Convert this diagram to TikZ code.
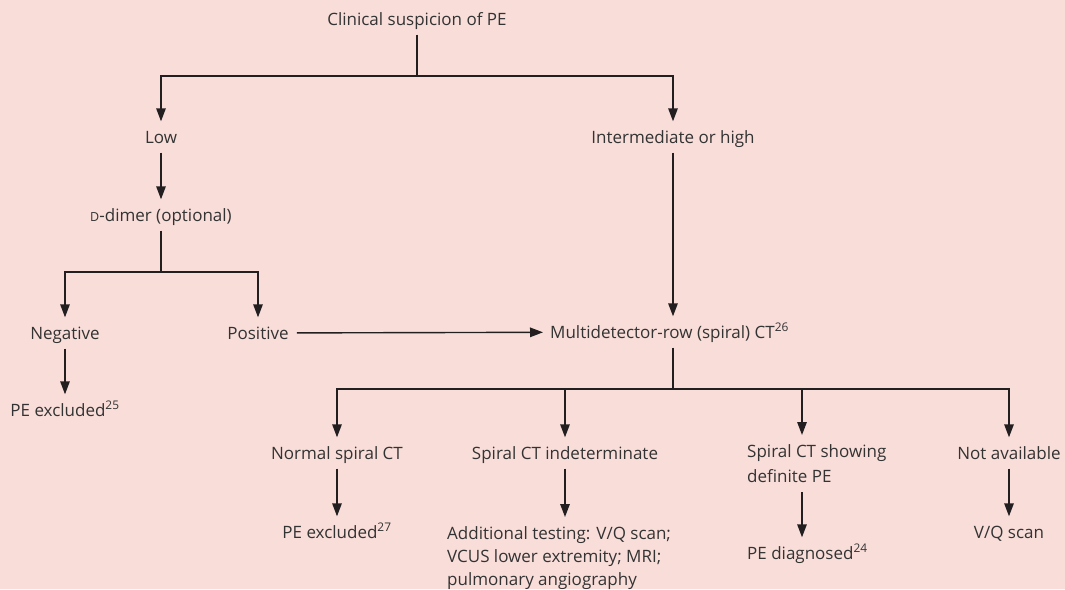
\documentclass[tikz,border=0pt]{standalone}
\usepackage{fontspec}
\setmainfont{Open Sans}
\usepackage{tikz}
\usetikzlibrary{arrows.meta,positioning,calc}
\definecolor{bgpink}{HTML}{F8DDD9}
\definecolor{inkgray}{HTML}{333333}
\definecolor{linegray}{HTML}{231F20}

\begin{document}
\begin{tikzpicture}[
    x=1pt, y=-1pt,
    >={Triangle[length=13pt,width=9.5pt]},
    lbl/.style={inner xsep=0pt,inner ysep=9.5pt,text height=12pt,text depth=0pt,
                font=\fontsize{17}{23}\selectfont,text=inkgray},
    blk/.style={inner xsep=0pt,inner ysep=9.5pt,text depth=0pt,align=left,
                font=\fontsize{17}{23}\selectfont,text=inkgray},
    link/.style={linegray,line width=1.4pt},
    flow/.style={link,->},
  ]

  % page: pink panel, fixed to the reference size
  \fill[bgpink] (0,0) rectangle (1065,589);
  \useasboundingbox (0,0) rectangle (1065,589);

  % --- top: suspicion and its two branches ---
  \node[lbl] (clin)  at (417,19)  {Clinical suspicion of PE};
  \node[lbl] (low)   at (161,137) {Low};
  \node[lbl] (inter) at (673,137) {Intermediate or high};
  \coordinate (j1) at (417,76);
  \draw[link] (clin) -- (j1);
  \draw[flow] (j1) -| (low);
  \draw[flow] (j1) -| (inter);

  % --- low probability: D-dimer ---
  \node[lbl] (ddim) at (161,215) {{\fontsize{12.5}{12.5}\selectfont D}-dimer (optional)};
  \draw[flow] (low) -- (ddim);
  \node[lbl] (neg)  at (65,333)  {Negative};
  \node[lbl] (pos)  at (258,333) {Positive};
  \coordinate (j2) at (161,272);
  \draw[link] (ddim) -- (j2);
  \draw[flow] (j2) -| (neg);
  \draw[flow] (j2) -| (pos);
  \node[lbl] (pex1) at (65,410) {PE excluded\textsuperscript{25}};
  \draw[flow] (neg) -- (pex1);

  % --- spiral CT ---
  \node[lbl,anchor=west] (mdct) at (550,332) {Multidetector-row (spiral) CT\textsuperscript{26}};
  \draw[flow,shorten <=8pt,shorten >=7pt] (pos) -- (mdct);
  \draw[flow] (inter) -- (inter |- mdct.north);
  \coordinate (j3) at (673,389);
  \draw[link] (mdct.south -| j3) -- (j3);

  % --- CT outcomes (bottom row) ---
  \node[lbl] (norm)  at (337,453)  {Normal spiral CT};
  \node[lbl] (indet) at (565,453)  {Spiral CT indeterminate};
  \node[blk,anchor=north west,font=\fontsize{17}{25}\selectfont] (defpe) at (747,435)
    {Spiral CT showing\\definite PE};
  \node[lbl] (notav) at (1009,453) {Not available};
  \coordinate (j4) at (802,389);
  \draw[flow] (j3) -| (norm);
  \draw[flow] (j3) -| (indet);
  \draw[flow] (j4) -- (j4 |- defpe.north);
  \draw[flow] (j3) -| (notav);

  \node[lbl] (pex2) at (337,532) {PE excluded\textsuperscript{27}};
  \node[blk,anchor=north west] (addt) at (447,517)
    {Additional testing: V/Q scan;\\VCUS lower extremity; MRI;\\pulmonary angiography};
  \node[lbl,anchor=west] (pediag) at (747,553) {PE diagnosed\textsuperscript{24}};
  \node[lbl] (vq) at (1009,532) {V/Q scan};
  \draw[flow] (norm) -- (pex2);
  \draw[flow] (indet) -- (indet |- addt.north);
  \draw[flow] (defpe.south -| j4) -- (pediag.north -| j4);
  \draw[flow] (notav) -- (vq);

\end{tikzpicture}
\end{document}
